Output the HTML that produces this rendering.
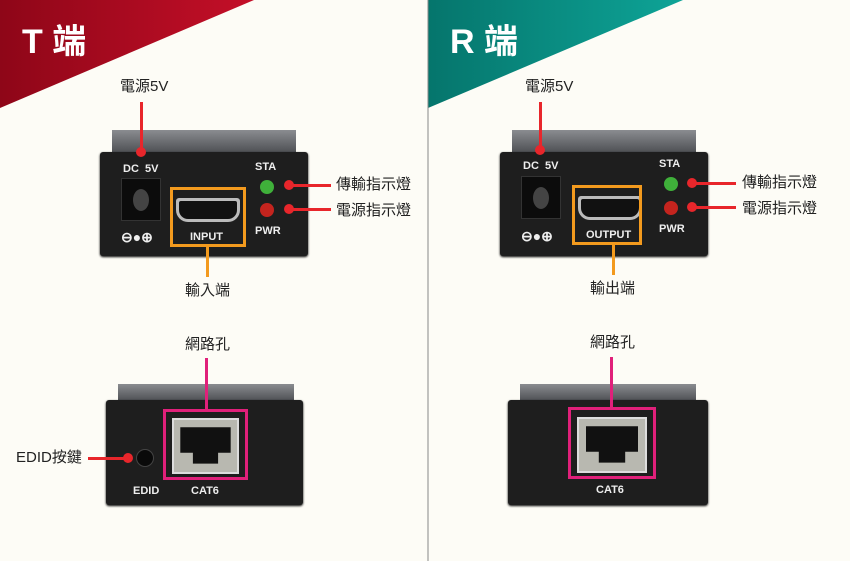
<!DOCTYPE html><html><head><meta charset="utf-8"><style>
*{margin:0;padding:0;box-sizing:border-box}
body{width:850px;height:561px;background:#fdfcf6;position:relative;overflow:hidden;font-family:"Liberation Sans","Noto Sans CJK TC",sans-serif}
.a{position:absolute}
.t{position:absolute;font-size:15px;color:#222;white-space:nowrap;line-height:18px}
.dev{position:absolute;background:#1e1e1e;border-radius:3px;box-shadow:0 1px 2px #000}
.top{position:absolute;background:linear-gradient(#8a8c90,#4a4c50)}
.w{position:absolute;color:#eee;font-weight:bold;font-size:11px;white-space:nowrap;font-family:"Liberation Sans",sans-serif}
.dot{position:absolute;width:10px;height:10px;border-radius:50%;background:#e8262b}
.rl{position:absolute;background:#e8262b}
.ob{position:absolute;border:3px solid #f39a1e}
.pb{position:absolute;border:3px solid #e0207a}
.rj{position:absolute;background:#b8b8b0;border:2px solid #ddd}
.rj i{position:absolute;left:10%;top:14%;width:80%;height:70%;background:#111;clip-path:polygon(0 0,100% 0,100% 70%,75% 70%,75% 100%,25% 100%,25% 70%,0 70%)}
</style></head><body>
<svg class="a" style="left:0;top:0" width="850" height="561">
<defs><linearGradient id="r" x1="0" x2="1"><stop offset="0" stop-color="#8e0618"/><stop offset="1" stop-color="#c40f28"/></linearGradient>
<linearGradient id="g" x1="0" x2="1"><stop offset="0" stop-color="#05756c"/><stop offset="1" stop-color="#0ea497"/></linearGradient></defs>
<polygon points="0,0 254,0 0,108" fill="url(#r)"/>
<polygon points="428,0 683,0 428,108" fill="url(#g)"/>
<line x1="428" y1="0" x2="428" y2="561" stroke="#888" stroke-width="1"/>
</svg>
<div class="a" style="left:22px;top:22px;color:#fff;font-weight:bold;font-size:34px;line-height:40px">T 端</div>
<div class="a" style="left:450px;top:22px;color:#fff;font-weight:bold;font-size:34px;line-height:40px">R 端</div>

<!-- T top device -->
<div class="top" style="left:112px;top:130px;width:184px;height:24px"></div>
<div class="dev" style="left:100px;top:152px;width:208px;height:104px"></div>
<div class="w" style="left:123px;top:163px">DC&nbsp;&nbsp;5V</div>
<div class="a" style="left:121px;top:178px;width:40px;height:43px;background:#0c0c0c;border:1px solid #333"></div>
<div class="a" style="left:133px;top:189px;width:16px;height:22px;border-radius:50%;background:#444"></div>
<div class="w" style="left:121px;top:229px;font-size:14px">⊖●⊕</div>
<div class="a" style="left:176px;top:198px;width:64px;height:24px;background:#bbb;border-radius:3px 3px 12px 12px"></div>
<div class="a" style="left:179px;top:201px;width:58px;height:18px;background:#111;border-radius:2px 2px 9px 9px"></div>
<div class="w" style="left:190px;top:231px">INPUT</div>
<div class="w" style="left:255px;top:161px">STA</div>
<div class="w" style="left:255px;top:225px">PWR</div>
<div class="a" style="left:260px;top:180px;width:14px;height:14px;border-radius:50%;background:#3fb03a"></div>
<div class="a" style="left:260px;top:203px;width:14px;height:14px;border-radius:50%;background:#c4241e"></div>
<div class="ob" style="left:170px;top:187px;width:76px;height:60px"></div>
<div class="a" style="left:206px;top:247px;width:3px;height:30px;background:#f39a1e"></div>
<div class="t" style="left:185px;top:282px">輸入端</div>
<div class="t" style="left:120px;top:78px">電源5V</div>
<div class="rl" style="left:140px;top:102px;width:3px;height:50px"></div><div class="dot" style="left:136px;top:147px"></div>
<div class="dot" style="left:284px;top:180px"></div><div class="rl" style="left:289px;top:184px;width:42px;height:3px"></div>
<div class="dot" style="left:284px;top:204px"></div><div class="rl" style="left:289px;top:208px;width:42px;height:3px"></div>
<div class="t" style="left:336px;top:176px">傳輸指示燈</div>
<div class="t" style="left:336px;top:202px">電源指示燈</div>

<!-- R top device -->
<div class="top" style="left:512px;top:130px;width:184px;height:24px"></div>
<div class="dev" style="left:500px;top:152px;width:208px;height:104px"></div>
<div class="w" style="left:523px;top:160px">DC&nbsp;&nbsp;5V</div>
<div class="a" style="left:521px;top:176px;width:40px;height:43px;background:#0c0c0c;border:1px solid #333"></div>
<div class="a" style="left:533px;top:187px;width:16px;height:22px;border-radius:50%;background:#444"></div>
<div class="w" style="left:521px;top:228px;font-size:14px">⊖●⊕</div>
<div class="a" style="left:578px;top:196px;width:64px;height:24px;background:#bbb;border-radius:3px 3px 12px 12px"></div>
<div class="a" style="left:581px;top:199px;width:58px;height:18px;background:#111;border-radius:2px 2px 9px 9px"></div>
<div class="w" style="left:586px;top:229px">OUTPUT</div>
<div class="w" style="left:659px;top:158px">STA</div>
<div class="w" style="left:659px;top:223px">PWR</div>
<div class="a" style="left:664px;top:177px;width:14px;height:14px;border-radius:50%;background:#3fb03a"></div>
<div class="a" style="left:664px;top:201px;width:14px;height:14px;border-radius:50%;background:#c4241e"></div>
<div class="ob" style="left:572px;top:185px;width:70px;height:60px"></div>
<div class="a" style="left:612px;top:245px;width:3px;height:30px;background:#f39a1e"></div>
<div class="t" style="left:590px;top:280px">輸出端</div>
<div class="t" style="left:525px;top:78px">電源5V</div>
<div class="rl" style="left:539px;top:102px;width:3px;height:48px"></div><div class="dot" style="left:535px;top:145px"></div>
<div class="dot" style="left:687px;top:178px"></div><div class="rl" style="left:692px;top:182px;width:44px;height:3px"></div>
<div class="dot" style="left:687px;top:202px"></div><div class="rl" style="left:692px;top:206px;width:44px;height:3px"></div>
<div class="t" style="left:742px;top:174px">傳輸指示燈</div>
<div class="t" style="left:742px;top:200px">電源指示燈</div>

<!-- T bottom -->
<div class="top" style="left:118px;top:384px;width:176px;height:18px"></div>
<div class="dev" style="left:106px;top:400px;width:197px;height:105px"></div>
<div class="rj" style="left:172px;top:418px;width:67px;height:56px"><i></i></div>
<div class="pb" style="left:163px;top:409px;width:85px;height:71px"></div>
<div class="w" style="left:191px;top:485px">CAT6</div>
<div class="w" style="left:133px;top:485px">EDID</div>
<div class="a" style="left:136px;top:449px;width:18px;height:18px;border-radius:50%;background:#0a0a0a;border:1px solid #444"></div>
<div class="dot" style="left:123px;top:453px"></div><div class="rl" style="left:88px;top:457px;width:38px;height:3px"></div>
<div class="t" style="left:16px;top:449px">EDID按鍵</div>
<div class="a" style="left:205px;top:358px;width:3px;height:51px;background:#e0207a"></div>
<div class="t" style="left:185px;top:336px">網路孔</div>

<!-- R bottom -->
<div class="top" style="left:520px;top:384px;width:176px;height:18px"></div>
<div class="dev" style="left:508px;top:400px;width:200px;height:105px"></div>
<div class="rj" style="left:577px;top:417px;width:70px;height:56px"><i></i></div>
<div class="pb" style="left:568px;top:407px;width:88px;height:72px"></div>
<div class="w" style="left:596px;top:484px">CAT6</div>
<div class="a" style="left:610px;top:357px;width:3px;height:51px;background:#e0207a"></div>
<div class="t" style="left:590px;top:334px">網路孔</div>
</body></html>
